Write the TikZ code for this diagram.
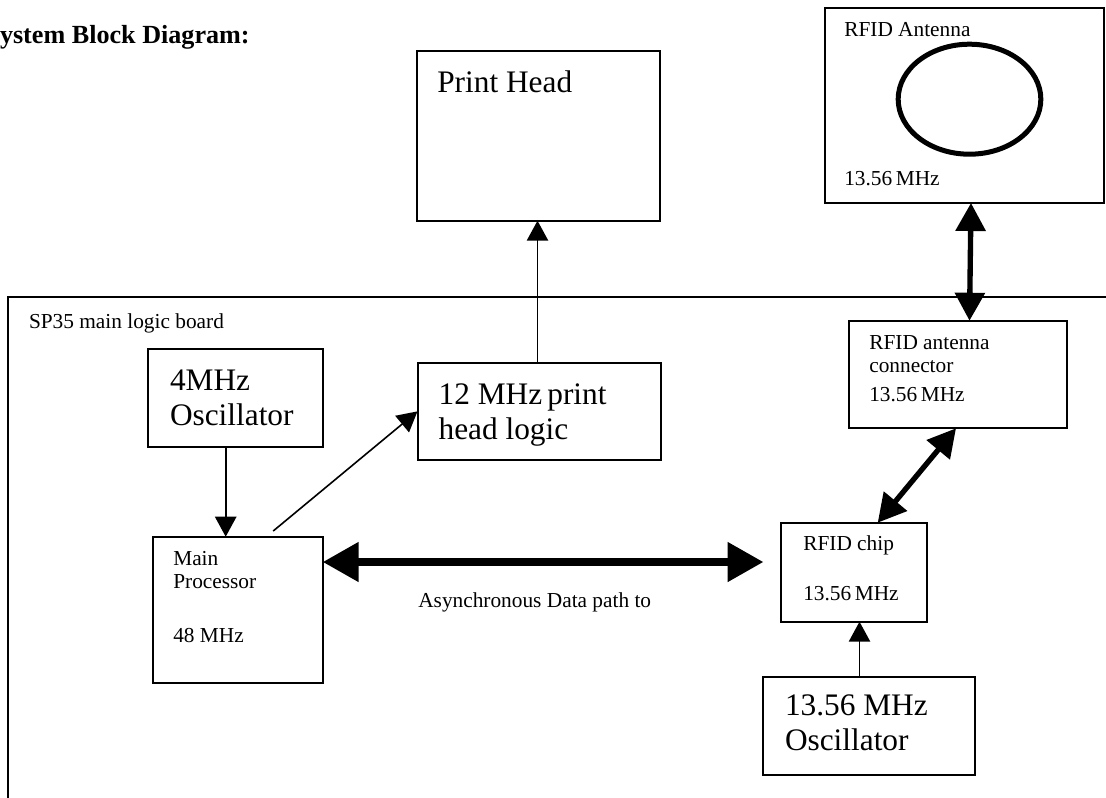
\documentclass[tikz,border=0pt]{standalone}
\usepackage{fontspec}
\setmainfont{Liberation Serif}
\usetikzlibrary{arrows.meta,fit}
\begin{document}
\begin{tikzpicture}[x=0.75pt,y=-0.75pt,
  box/.style={draw, line width=1.5pt, inner sep=0pt, outer sep=0pt},
  lbl/.style={anchor=base west, inner sep=0pt, outer sep=0pt, font=\fontsize{16}{19}\selectfont},
  big/.style={lbl, font=\fontsize{23.5}{28}\selectfont},
  ttl/.style={lbl, font=\fontsize{19.6}{23}\selectfont\bfseries},
  thinarrow/.style={line width=1.2pt, -{Triangle[length=15pt,width=16pt]}},
  bus/.style={line width=6pt, {Triangle[length=27pt,width=28.5pt]}-{Triangle[length=27pt,width=28.5pt]}},
  link/.style={line width=4pt, {Triangle[length=21pt,width=22pt]}-{Triangle[length=21pt,width=22pt]}}
]
\useasboundingbox (0,0) rectangle (1106,797);
\clip (0,0) rectangle (1106,797);

% title
\node[ttl] (title) at (0,43.3) {ystem Block Diagram:};

% boxes
\node[box, fit={(416.7,51) (660,220.7)}] (printhead) {};
\node[box, fit={(825,8) (1104,203)}] (antenna) {};
\node[box, fit={(8.3,296.7) (1140,840)}] (board) {};
\node[box, fit={(148,349) (322.7,446.7)}] (osc4) {};
\node[box, fit={(417.5,362.7) (660.6,460)}] (logic) {};
\node[box, fit={(152.7,536.7) (322.7,682.7)}] (mainproc) {};
\node[box, fit={(849,320.7) (1066.7,428.3)}] (connector) {};
\node[box, fit={(780.7,522.7) (926.7,621.7)}] (chip) {};
\node[box, fit={(762.7,676.7) (975,775)}] (osc1356) {};

% antenna loop
\draw[line width=3.75pt] (969.5,99.2) ellipse [x radius=53.5pt, y radius=41.25pt];

% texts
\node[big] (tph) at (437.3,92.7) {Print Head};
\node[lbl] (tant1) at (844.3,36) {RFID Antenna};
\node[lbl] (tant2) at (844.3,185) {13.56\,MHz};
\node[lbl] (tboard) at (29,328) {SP35 main logic board};
\node[big] (to41) at (170,390) {4MHz};
\node[big] (to42) at (170,425) {Oscillator};
\node[big] (tlg1) at (438.6,404) {12 MHz\,print};
\node[big] (tlg2) at (438.6,439) {head logic};
\node[lbl] (tmp1) at (173.3,565) {Main};
\node[lbl] (tmp2) at (173.3,588) {Processor};
\node[lbl] (tmp3) at (173.3,642.7) {48 MHz};
\node[lbl] (tcn1) at (869.3,349.3) {RFID antenna};
\node[lbl] (tcn2) at (869.3,372.7) {connector};
\node[lbl] (tcn3) at (869.3,401.7) {13.56\,MHz};
\node[lbl] (tch1) at (803.3,550.7) {RFID chip};
\node[lbl] (tch2) at (803.3,600) {13.56\,MHz};
\node[big] (tos1) at (785,715) {13.56 MHz};
\node[big] (tos2) at (785,750) {Oscillator};
\node[lbl] (tasync) at (418.3,607.3) {Asynchronous Data path to};

% connector positions
\coordinate (x4) at (225.7,0);
\coordinate (xph) at (537.5,0);
\coordinate (dstart) at (273.2,531);
\coordinate (busend) at (763.5,562);
\coordinate (xos) at (859.5,0);
\coordinate (xchip) at (877.7,0);
\coordinate (xconb) at (956,0);
\coordinate (xantb) at (971,0);
\coordinate (xcont) at (969.5,0);

% connectors
\draw[thinarrow] (logic.north -| xph) -- (printhead.south -| xph);
\draw[thinarrow] (osc4.south -| x4) -- (mainproc.north -| x4);
\draw[thinarrow] (dstart) -- (logic.west);
\draw[bus] (mainproc.east |- busend) -- (busend);
\draw[thinarrow] (osc1356.north -| xos) -- (chip.south -| xos);
\draw[link] (chip.north -| xchip) -- (connector.south -| xconb);
\draw[link] (antenna.south -| xantb) -- (connector.north -| xcont);
\end{tikzpicture}
\end{document}
